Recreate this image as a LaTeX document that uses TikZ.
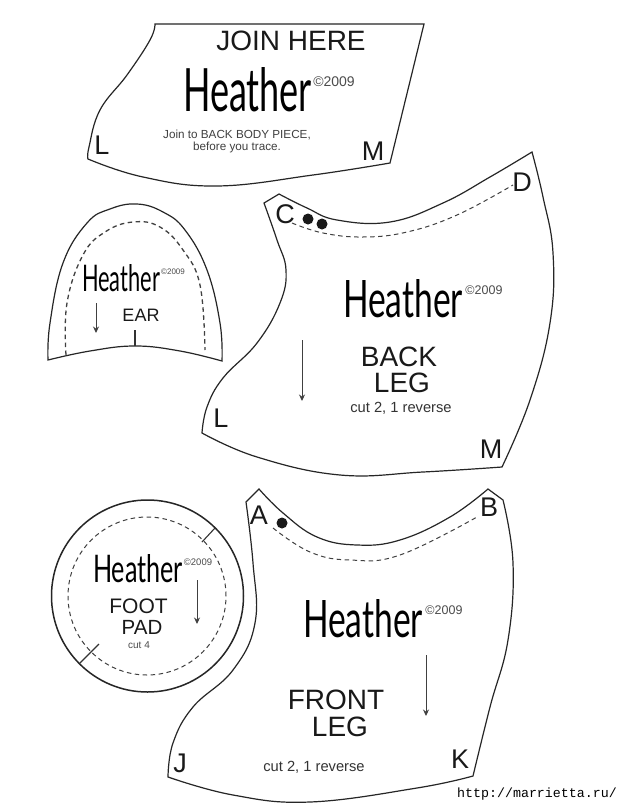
\documentclass[tikz,border=0pt]{standalone}
\usepackage{fontspec}
\usepackage{graphicx}
\setmainfont{Liberation Sans}
\newfontfamily\heatherfont{Lato}
\newfontfamily\urlfont{Liberation Mono}
\usetikzlibrary{arrows.meta}
\newcommand{\heatherword}[2]{\resizebox{#1pt}{#2pt}{\heatherfont Heather}}
\tikzset{
  x=1pt,y=-1pt,
  outline/.style={draw=black!85,line width=1.2pt,line join=miter},
  seam/.style={draw=black!75,line width=1pt,dash pattern=on 4.5pt off 3.5pt},
  tick/.style={draw=black!80,line width=1.1pt},
  grain/.style={draw=black!75,line width=1pt,-{Stealth[length=6.5pt,width=6pt]}},
  pin/.style={circle,fill=black!90,inner sep=0pt,minimum size=11pt},
  sz/.style={inner sep=0pt,text=black!90,align=center,font=\fontsize{#1}{#1}\selectfont},
  big/.style={sz=28},
  letter/.style={sz=27},
  small/.style={sz=11.7,text=black!75},
  copyr/.style={sz=#1,text=black!70},
  brand/.style={inner sep=0pt}
}
\begin{document}
\begin{tikzpicture}
\useasboundingbox (0,0) rectangle (620,808);
\fill[white] (0,0) rectangle (620,808);

% back body piece
\draw[outline] (155,24) -- (424,24) -- (390,163)
  -- plot[smooth,tension=.7] coordinates {(390,163) (313,175) (217,186) (143,177) (88,159)}
  -- plot[smooth,tension=.7] coordinates {(88,159) (89,147) (100,110) (127,75) (150,40) (155,24)} -- cycle;
\node[big] (join) at (291,41) {JOIN HERE};
\node[brand] (h1) at (247.5,90) {\heatherword{129}{44}};
\node[copyr=14] (c1) at (334,82) {©2009};
\node[small] (joinA) at (237,135) {Join to BACK BODY PIECE,};
\node[small] (joinB) at (237,147) {before you trace.};
\node[letter] (L1) at (102,145) {L};
\node[letter] (M1) at (373,151) {M};

% ear
\draw[outline] plot[smooth,tension=.7] coordinates {(48,360) (50,323) (63,263) (87,223) (110,209) (137,204) (163,212) (185,230) (207,270) (220,323) (222,361)}
  -- plot[smooth,tension=.7] coordinates {(222,361) (180,351) (135,346) (90,351) (48,360)} -- cycle;
\draw[seam,line width=1.3pt] plot[smooth,tension=.7] coordinates {(66,355) (67,303) (83,255) (105,232) (133,222) (160,227) (183,250) (200,285) (205,350)};
\coordinate (eartickA) at (135,330); \coordinate (eartickB) at (135,346);
\draw[tick] (eartickA) -- (eartickB);
\coordinate (eararrA) at (96,303); \coordinate (eararrB) at (96,333);
\draw[grain] (eararrA) -- (eararrB);
\node[brand] (h2) at (121,278.5) {\heatherword{78}{27}};
\node[copyr=8] (c2) at (173,272) {©2009};
\node[sz=18] (ear) at (141,315) {EAR};

% back leg
\draw[outline] (264,203) -- (279,194)
  -- plot[smooth,tension=.7] coordinates {(279,194) (307,208) (337,220) (390,222) (443,203) (490,177) (532,152)}
  -- plot[smooth,tension=.7] coordinates {(532,152) (543,197) (553,253) (550,323) (530,400) (502,467)}
  -- plot[smooth,tension=.7] coordinates {(502,467) (423,472) (340,475) (257,457) (202,433)}
  -- plot[smooth,tension=.7] coordinates {(202,433) (207,407) (223,378) (257,343) (280,303) (286,270) (277,240) (264,203)} -- cycle;
\draw[seam] plot[smooth,tension=.7] coordinates {(292,223) (323,233) (363,237) (407,232) (457,215) (513,185)};
\node[pin] (dotC1) at (308,219) {};
\node[pin] (dotC2) at (322,224) {};
\node[letter] (C) at (285,214) {C};
\node[letter] (D) at (522,182) {D};
\node[letter] (L2) at (221,418) {L};
\node[letter] (M2) at (491,449) {M};
\node[brand] (h3) at (403,299) {\heatherword{120}{38}};
\node[copyr=12.5] (c3) at (484,290) {©2009};
\node[big] (back) at (399,357) {BACK};
\node[big] (legA) at (402,383) {LEG};
\node[sz=14.7,text=black!80] (cutA) at (401,408) {cut 2, 1 reverse};
\coordinate (backarrA) at (302,340); \coordinate (backarrB) at (302,401);
\draw[grain] (backarrA) -- (backarrB);

% foot pad
\node[circle,draw=black!85,line width=1.5pt,minimum size=192pt,inner sep=0pt] (foot) at (147.5,596) {};
\node[circle,seam,minimum size=158pt,inner sep=0pt] (footseam) at (147,596) {};
\coordinate (ftA) at (215,528); \coordinate (ftB) at (202,542);
\coordinate (ftC) at (80,663); \coordinate (ftD) at (99,644);
\draw[tick] (ftA) -- (ftB);
\draw[tick] (ftC) -- (ftD);
\node[brand] (h4) at (138,569) {\heatherword{90}{28}};
\node[copyr=9.5] (c4) at (198,562) {©2009};
\node[sz=21] (footA) at (138.5,606) {FOOT};
\node[sz=20.5] (footB) at (142,627) {PAD};
\node[sz=10,text=black!70] (cutF) at (139,645) {cut 4};
\coordinate (ftarrA) at (197,580); \coordinate (ftarrB) at (197,624);
\draw[grain] (ftarrA) -- (ftarrB);

% front leg
\draw[outline] (246,502) -- (259,489)
  -- plot[smooth,tension=.7] coordinates {(259,489) (283,513) (317,537) (357,545) (400,540) (450,517) (488,489)}
  -- (503,500)
  -- plot[smooth,tension=.7] coordinates {(503,500) (513,563) (508,640) (490,707) (473,776)}
  -- plot[smooth,tension=.7] coordinates {(473,776) (417,788) (310,802) (233,795) (168,777)}
  -- plot[smooth,tension=.7] coordinates {(168,777) (173,743) (193,707) (233,670) (255,623) (253,563) (246,502)} -- cycle;
\draw[seam] plot[smooth,tension=.7] coordinates {(273,528) (310,552) (350,560) (400,555) (477,517)};
\node[pin] (dotA) at (282,523) {};
\node[letter] (A) at (259,515) {A};
\node[letter] (B) at (489,507) {B};
\node[letter] (J) at (180,763) {J};
\node[letter] (K) at (460,759) {K};
\node[brand] (h5) at (363,619) {\heatherword{120}{38}};
\node[copyr=12.5] (c5) at (444,610) {©2009};
\node[big] (front) at (336,700) {FRONT};
\node[big] (legB) at (340,727) {LEG};
\node[sz=14.7,text=black!80] (cutB) at (314,767) {cut 2, 1 reverse};
\coordinate (frarrA) at (426,655); \coordinate (frarrB) at (426,716);
\draw[grain] (frarrA) -- (frarrB);

\node[inner sep=0pt,anchor=east,font=\urlfont\fontsize{13.3}{13.3}\selectfont] (url) at (617,794) {http://marrietta.ru/};
\end{tikzpicture}
\end{document}
